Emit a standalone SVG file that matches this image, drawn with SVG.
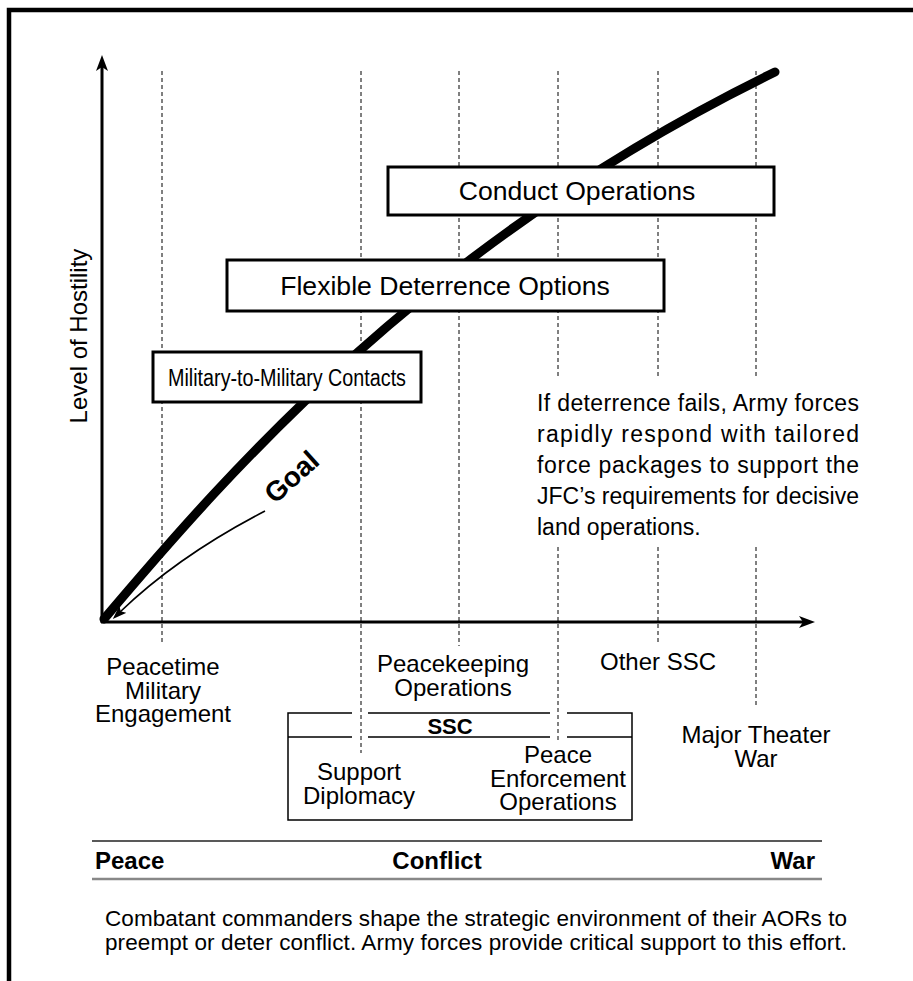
<svg xmlns="http://www.w3.org/2000/svg" width="913" height="981" viewBox="0 0 913 981">
<defs>
<style>
text{font-family:"Liberation Sans",Arial,sans-serif;fill:#000}
.lbl{font-size:24px;text-anchor:middle}
.box{fill:#fff;stroke:#000;stroke-width:3}
.boxt{font-size:26.6px;text-anchor:middle}
.grid{stroke:#000;stroke-width:1;stroke-dasharray:4 3;fill:none}
.axis{stroke:#000;stroke-width:3;fill:none}
.para{font-size:23px}
.bold{font-weight:bold}
</style>
<marker id="axhead" markerUnits="userSpaceOnUse" viewBox="0 0 16 12" refX="6" refY="6" markerWidth="16" markerHeight="12" orient="auto">
<path d="M0,0 L16,6 L0,12 L4,6 Z" fill="#000"/>
</marker>
<marker id="goalhead" markerUnits="userSpaceOnUse" viewBox="0 0 14 10" refX="4" refY="5" markerWidth="14" markerHeight="10" orient="auto">
<path d="M0,0 L14,5 L0,10 L3,5 Z" fill="#000"/>
</marker>
</defs>
<rect width="913" height="981" fill="#fff"/>
<g id="frame" stroke="#000" stroke-width="4.5" fill="none">
<path d="M9,981 V10 H913"/>
</g>
<g id="grid">
<path class="grid" d="M162,71 V645"/>
<path class="grid" d="M361,71 V753"/>
<path class="grid" d="M459,71 V646"/>
<path class="grid" d="M558,71 V378 M558,547 V740"/>
<path class="grid" d="M658,71 V378 M658,547 V643"/>
<path class="grid" d="M756,71 V378 M756,547 V707"/>
</g>
<g id="axes">
<line class="axis" x1="102" y1="623" x2="102" y2="65" marker-end="url(#axhead)"/>
<line class="axis" x1="101" y1="622" x2="805" y2="622" marker-end="url(#axhead)"/>
<text id="y-label" font-size="24" text-anchor="middle" transform="translate(87,336) rotate(-90)">Level of Hostility</text>
</g>
<g id="connectors">
<path id="hostility-curve" d="M104,619 C230,470 430,240 775,72" fill="none" stroke="#000" stroke-width="9" stroke-linecap="round"/>
<path id="goal-arrow" d="M265,511 Q178,556 120,612" fill="none" stroke="#000" stroke-width="1.6" marker-end="url(#goalhead)"/>
</g>
<g id="box-military">
<rect class="box" x="153" y="352" width="268" height="50"/>
<text class="boxt" x="287" y="386" style="font-size:23px" textLength="238" lengthAdjust="spacingAndGlyphs">Military-to-Military Contacts</text>
</g>
<g id="box-flexible">
<rect class="box" x="227" y="260" width="437" height="51"/>
<text class="boxt" x="445" y="295">Flexible Deterrence Options</text>
</g>
<g id="box-conduct">
<rect class="box" x="388" y="167" width="386" height="48"/>
<text class="boxt" x="577" y="200">Conduct Operations</text>
</g>
<g id="goal-label">
<text class="bold" font-size="28" text-anchor="middle" transform="translate(298,484) rotate(-42)">Goal</text>
</g>
<g id="deterrence-note" class="para">
<text x="537" y="411" textLength="322" lengthAdjust="spacing">If deterrence fails, Army forces</text>
<text x="537" y="442" textLength="322" lengthAdjust="spacing">rapidly respond with tailored</text>
<text x="537" y="473" textLength="322" lengthAdjust="spacing">force packages to support the</text>
<text x="537" y="504" textLength="322" lengthAdjust="spacing">JFC’s requirements for decisive</text>
<text x="537" y="535">land operations.</text>
</g>
<g id="label-peacetime">
<text class="lbl" y="675"><tspan x="163">Peacetime</tspan><tspan x="163" dy="23.5">Military</tspan><tspan x="163" dy="23.5">Engagement</tspan></text>
</g>
<g id="label-peacekeeping">
<text class="lbl" y="672"><tspan x="453">Peacekeeping</tspan><tspan x="453" dy="23.5">Operations</tspan></text>
</g>
<g id="label-other-ssc">
<text class="lbl" x="658" y="670">Other SSC</text>
</g>
<g id="label-mtw">
<text class="lbl" y="743"><tspan x="756">Major Theater</tspan><tspan x="756" dy="23.5">War</tspan></text>
</g>
<g id="ssc-box">
<path d="M352,713 H288 V820 H632 V713 H567 M550,713 H368 M288,737 H352 M368,737 H550 M567,737 H632" fill="none" stroke="#000" stroke-width="1.5"/>
<text class="bold" font-size="22" text-anchor="middle" x="450" y="734">SSC</text>
<text class="lbl" y="780"><tspan x="359">Support</tspan><tspan x="359" dy="23.5">Diplomacy</tspan></text>
<text class="lbl" y="763"><tspan x="558">Peace</tspan><tspan x="558" dy="23.5">Enforcement</tspan><tspan x="558" dy="23.5">Operations</tspan></text>
</g>
<g id="scale-bar">
<line x1="92" y1="841" x2="822" y2="841" stroke="#222" stroke-width="1.5"/>
<line x1="92" y1="879" x2="822" y2="879" stroke="#888" stroke-width="2.5"/>
<text class="bold" font-size="24" x="95" y="869">Peace</text>
<text class="bold" font-size="24" x="437" y="869" text-anchor="middle">Conflict</text>
<text class="bold" font-size="24" x="815" y="869" text-anchor="end">War</text>
</g>
<g id="caption" font-size="22.5">
<text x="105" y="926" textLength="742" lengthAdjust="spacing">Combatant commanders shape the strategic environment of their AORs to</text>
<text x="105" y="950" textLength="742" lengthAdjust="spacing">preempt or deter conflict. Army forces provide critical support to this effort.</text>
</g>
</svg>
